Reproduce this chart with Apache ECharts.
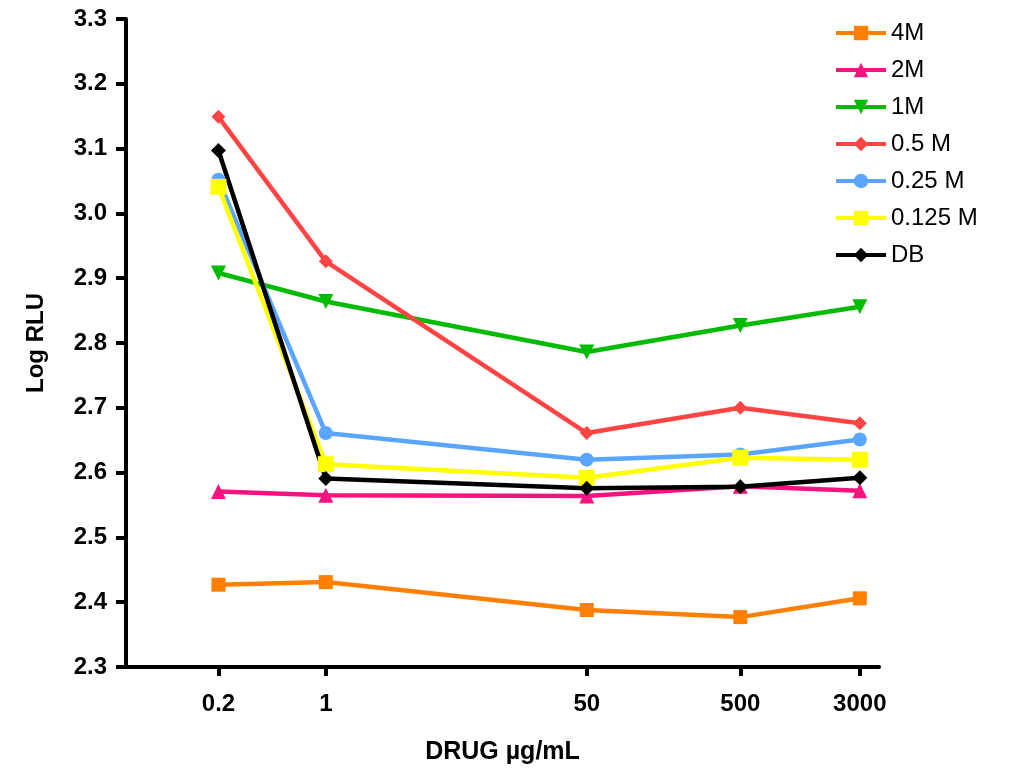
<!DOCTYPE html>
<html><head><meta charset="utf-8">
<script src="https://cdn.jsdelivr.net/npm/echarts@6/dist/echarts.min.js"></script>
<style>html,body{margin:0;padding:0;background:#fff}#c{width:1013px;height:770px}</style>
</head><body><div id="c"></div>
<script>
const doses = [0.2, 1, 50, 500, 3000];
const yTicks = [2.3, 2.4, 2.5, 2.6, 2.7, 2.8, 2.9, 3.0, 3.1, 3.2, 3.3];
const s4M = [2.427, 2.431, 2.388, 2.377, 2.406];
const s2M = [2.571, 2.565, 2.564, 2.579, 2.572];
const s1M = [2.908, 2.864, 2.786, 2.827, 2.856];
const s05M = [3.149, 2.926, 2.661, 2.700, 2.676];
const s025M = [3.052, 2.661, 2.620, 2.628, 2.651];
const s0125M = [3.041, 2.613, 2.592, 2.623, 2.620];
const sDB = [3.097, 2.591, 2.576, 2.578, 2.592];
const seriesDefs = [
  {name:'4M', data:s4M, color:'#FF8000', symbol:'rect', size:14},
  {name:'2M', data:s2M, color:'#F5147F', symbol:'triangle', size:15},
  {name:'1M', data:s1M, color:'#00BB00', symbol:'path://M0,0L10,0L5,9Z', size:15},
  {name:'0.5 M', data:s05M, color:'#FF4444', symbol:'diamond', size:14},
  {name:'0.25 M', data:s025M, color:'#5AA5FF', symbol:'circle', size:14},
  {name:'0.125 M', data:s0125M, color:'#FFFF00', symbol:'rect', size:16},
  {name:'DB', data:sDB, color:'#000000', symbol:'diamond', size:15}
];
const FONT = 'Liberation Sans, Arial, sans-serif';
const chart = echarts.init(document.getElementById('c'));
chart.setOption({
  animation:false,
  textStyle:{fontFamily:FONT},
  grid:{left:126, right:134, top:19, bottom:102},
  legend:{
    orient:'vertical', left:829, top:16, itemGap:13, itemWidth:50, itemHeight:18,
    lineStyle:{width:4},
    textStyle:{fontSize:24, color:'#000', fontFamily:FONT},
    data: seriesDefs.map(s=>s.name)
  },
  xAxis:{
    type:'log', logBase:10, min:0.05, max:4000,
    name:'DRUG µg/mL', nameLocation:'middle', nameGap:73,
    nameTextStyle:{fontSize:25, fontWeight:'bold', color:'#000', fontFamily:FONT},
    axisLine:{lineStyle:{color:'#000', width:4}},
    axisTick:{show:true, inside:false, length:9, lineStyle:{width:4, color:'#000'}, customValues:doses},
    axisLabel:{fontSize:24, fontWeight:'bold', color:'#000', margin:25, customValues:doses,
      formatter:v=>String(v)},
    splitLine:{show:false}, minorTick:{show:false}
  },
  yAxis:{
    type:'value', min:2.3, max:3.3, interval:0.1,
    name:'Log RLU', nameLocation:'middle', nameGap:78,
    nameTextStyle:{fontSize:24, fontWeight:'bold', color:'#000', fontFamily:FONT},
    axisLine:{show:true, lineStyle:{color:'#000', width:4}},
    axisTick:{show:true, length:10, lineStyle:{width:4, color:'#000'}},
    axisLabel:{fontSize:24, fontWeight:'bold', color:'#000', margin:19,
      formatter:v=>v.toFixed(1)},
    splitLine:{show:false}
  },
  series: seriesDefs.map(s=>({
    name:s.name, type:'line',
    data: doses.map((d,i)=>[d, s.data[i]]),
    symbol:s.symbol, symbolSize:s.size, showSymbol:true,
    lineStyle:{color:s.color, width:4.5},
    itemStyle:{color:s.color},
    emphasis:{disabled:true}
  }))
});
</script></body></html>
